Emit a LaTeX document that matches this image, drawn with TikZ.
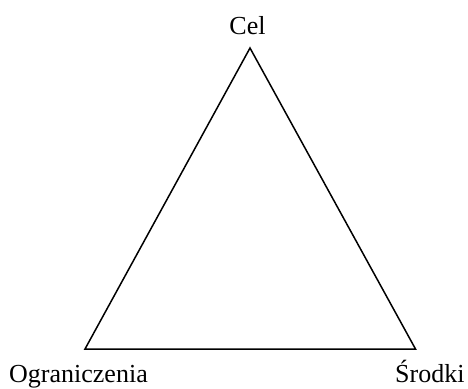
\documentclass[tikz,border=0pt]{standalone}
\usepackage{fontspec}
\setmainfont{Liberation Serif}
\begin{document}
\begin{tikzpicture}[x=1pt,y=-1pt,
  lbl/.style={inner sep=0pt,font=\fontsize{26}{30}\selectfont},
  edge/.style={line width=1.5pt,line join=miter}]
\useasboundingbox (0,0) rectangle (468,388);
\coordinate (A) at (250,48);
\coordinate (B) at (85,349);
\coordinate (C) at (415.5,349);
\draw[edge] (A) -- (B) -- (C) -- cycle;
\node[lbl,anchor=base] (cel) at (247.5,34) {Cel};
\node[lbl,anchor=base west] (ogr) at (9,382) {Ograniczenia};
\node[lbl,anchor=base west] (srd) at (395,382) {Środki};
\end{tikzpicture}
\end{document}
